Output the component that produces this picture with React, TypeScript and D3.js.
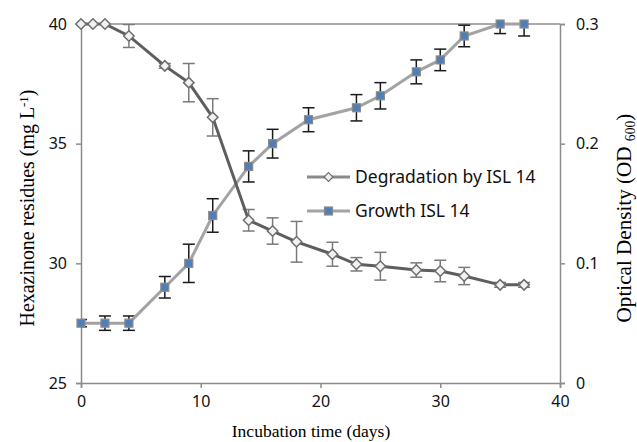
import React, { useEffect, useRef } from "react";
import * as d3 from "d3";

// degradation of hexazinone (mg/L)
const degDays = [0, 1, 2, 4, 7, 9, 11, 14, 16, 18, 21, 23, 25, 28, 30, 32, 35, 37];
const degValues = [40, 40, 40, 39.5, 38.25, 37.55, 36.1, 31.8, 31.35, 30.9, 30.38, 29.96, 29.88, 29.72, 29.68, 29.47, 29.1, 29.1];
const degErrors = [0, 0, 0, 0.48, 0.1, 0.8, 0.78, 0.45, 0.55, 0.85, 0.5, 0.28, 0.58, 0.3, 0.45, 0.36, 0.1, 0.1];

// growth (OD 600)
const growthDays = [0, 2, 4, 7, 9, 11, 14, 16, 19, 23, 25, 28, 30, 32, 35, 37];
const growthValues = [0.05, 0.05, 0.05, 0.08, 0.1, 0.14, 0.181, 0.2, 0.22, 0.23, 0.24, 0.26, 0.27, 0.29, 0.3, 0.3];
const growthErrors = [0.003, 0.006, 0.006, 0.009, 0.016, 0.014, 0.013, 0.012, 0.01, 0.011, 0.011, 0.01, 0.009, 0.009, 0.008, 0.01];

const xTicks = [0, 10, 20, 30, 40];
const leftTicks = [25, 30, 35, 40];
const rightTicks = [0, 0.1, 0.2, 0.3];

const seriesNames = ["Degradation by ISL 14", "Growth ISL 14"];

export default function App() {
    const ref = useRef<SVGSVGElement>(null);

    useEffect(() => {
        document.body.style.margin = "0";
        const W = 637, H = 442;
        const margin = { top: 24, right: 77, bottom: 59, left: 81 };
        const w = W - margin.left - margin.right,
            h = H - margin.top - margin.bottom;

        const svg = d3.select(ref.current);
        svg.selectAll("*").remove();
        const g = svg.append("g").attr("transform", `translate(${margin.left},${margin.top})`);

        const x = d3.scaleLinear().domain([0, 40]).range([0, w]);
        const yL = d3.scaleLinear().domain([25, 40]).range([h, 0]);
        const yR = d3.scaleLinear().domain([0, 0.3]).range([h, 0]);

        const axisColor = "#8c8c8c";
        const tickFont = "'Noto Sans', 'Open Sans', sans-serif";
        const serif = "'Liberation Serif', 'DejaVu Serif', serif";

        svg.append("defs").append("clipPath").attr("id", "plotclip")
            .append("rect").attr("x", 0).attr("y", 0).attr("width", w).attr("height", h);

        // top border
        g.append("line").attr("x1", 0).attr("x2", w).attr("y1", 0).attr("y2", 0)
            .attr("stroke", axisColor).attr("stroke-width", 1.5);

        const styleAxis = (sel: any) => {
            sel.select(".domain").attr("stroke", axisColor).attr("stroke-width", 1.5);
            sel.selectAll(".tick line").attr("stroke", axisColor).attr("stroke-width", 1.5);
            sel.selectAll(".tick text").attr("fill", "#111").style("font-family", tickFont).style("font-size", "16px");
        };

        g.append("g").attr("transform", `translate(0,${h})`)
            .call(d3.axisBottom(x).tickValues(xTicks).tickSizeOuter(0).tickSize(5).tickPadding(8))
            .call(styleAxis);
        g.append("g")
            .call(d3.axisLeft(yL).tickValues(leftTicks).tickSizeOuter(0).tickSize(5).tickPadding(9))
            .call(styleAxis);
        g.append("g").attr("transform", `translate(${w},0)`)
            .call(d3.axisRight(yR).tickValues(rightTicks).tickFormat(d3.format("")).tickSizeOuter(0).tickSize(5).tickPadding(11))
            .call(styleAxis);

        // axis titles
        svg.append("text").attr("x", 311).attr("y", 437)
            .attr("text-anchor", "middle").style("font-family", serif).style("font-size", "17.5px")
            .text("Incubation time (days)");

        // scale a rotated title so that it spans the wanted length
        const fitTitle = (t: any, target: number) => {
            const len = (t.node() as SVGTextElement).getComputedTextLength();
            if (len > 0) {
                const k = target / len;
                t.style("font-size", `${17 * k}px`);
                t.selectAll("tspan.small").style("font-size", `${11 * k}px`);
            }
        };

        const lt = svg.append("text").attr("transform", `translate(34,208) rotate(-90)`)
            .attr("text-anchor", "middle").style("font-family", serif).style("font-size", "17px");
        lt.append("tspan").text("Hexazinone residues (mg L");
        lt.append("tspan").attr("class", "small").attr("dy", -6).style("font-size", "11px").text("-1");
        lt.append("tspan").attr("dy", 6).text(")");
        fitTitle(lt, 237);

        const rt = svg.append("text").attr("transform", `translate(631,218) rotate(-90)`)
            .attr("text-anchor", "middle").style("font-family", serif).style("font-size", "17px");
        rt.append("tspan").text("Optical Density (OD ");
        rt.append("tspan").attr("class", "small").attr("dy", 4).style("font-size", "11px").text("600");
        rt.append("tspan").attr("dy", -4).text(")");
        fitTitle(rt, 209);

        const degData = degDays.map((d, i) => ({ x: d, y: degValues[i], e: degErrors[i] }));
        const growthData = growthDays.map((d, i) => ({ x: d, y: growthValues[i], e: growthErrors[i] }));

        const drawErrors = (data: any[], yScale: any, color: string, cls: string) => {
            const eg = g.append("g").attr("clip-path", "url(#plotclip)");
            const grp = eg.selectAll("." + cls).data(data.filter(d => d.e > 0)).join("g").attr("class", cls);
            grp.append("line").attr("x1", d => x(d.x)).attr("x2", d => x(d.x))
                .attr("y1", d => yScale(d.y - d.e)).attr("y2", d => yScale(d.y + d.e))
                .attr("stroke", color).attr("stroke-width", 1.5);
            [-1, 1].forEach(s => {
                grp.append("line").attr("x1", d => x(d.x) - 6).attr("x2", d => x(d.x) + 6)
                    .attr("y1", d => yScale(d.y + s * d.e)).attr("y2", d => yScale(d.y + s * d.e))
                    .attr("stroke", color).attr("stroke-width", 1.5);
            });
        };

        // growth series
        drawErrors(growthData, yR, "#1a1a1a", "gerr");
        g.append("path").datum(growthData)
            .attr("d", d3.line<any>().x(d => x(d.x)).y(d => yR(d.y)))
            .attr("fill", "none").attr("stroke", "#a3a3a3").attr("stroke-width", 3);

        // degradation series
        drawErrors(degData, yL, "#7a7a7a", "derr");
        g.append("path").datum(degData)
            .attr("d", d3.line<any>().x(d => x(d.x)).y(d => yL(d.y)))
            .attr("fill", "none").attr("stroke", "#5e5e5e").attr("stroke-width", 3);

        const diamond = d3.symbol().type(d3.symbolDiamond2).size(70);
        g.selectAll(".dmark").data(degData).join("path").attr("class", "dmark")
            .attr("transform", d => `translate(${x(d.x)},${yL(d.y)})`)
            .attr("d", diamond).attr("fill", "#f2f2f2").attr("stroke", "#6e6e6e").attr("stroke-width", 1.5);

        g.selectAll(".gmark").data(growthData).join("rect").attr("class", "gmark")
            .attr("x", d => x(d.x) - 4).attr("y", d => yR(d.y) - 4).attr("width", 8).attr("height", 8)
            .attr("fill", "#4f7fb8").attr("stroke", "#8a8a8a").attr("stroke-width", 1.2);

        // legend
        const legend = svg.append("g").attr("transform", "translate(307,177)");
        seriesNames.forEach((name, i) => {
            const ly = i * 34;
            legend.append("line").attr("x1", 0).attr("x2", 43).attr("y1", ly).attr("y2", ly)
                .attr("stroke", i === 0 ? "#8a8a8a" : "#a3a3a3").attr("stroke-width", 3);
            if (i === 0) {
                legend.append("path").attr("transform", `translate(21.5,${ly})`).attr("d", d3.symbol().type(d3.symbolDiamond2).size(50))
                    .attr("fill", "#f2f2f2").attr("stroke", "#6e6e6e").attr("stroke-width", 1.2);
            } else {
                legend.append("rect").attr("x", 17.5).attr("y", ly - 4).attr("width", 8).attr("height", 8)
                    .attr("fill", "#4f7fb8").attr("stroke", "#8a8a8a").attr("stroke-width", 1.2);
            }
            legend.append("text").attr("x", 48).attr("y", ly).attr("dy", "0.35em")
                .style("font-family", tickFont).style("font-size", "17.5px").attr("fill", "#111")
                .text(name);
        });
    }, []);

    return <svg ref={ref} width={637} height={442} style={{ display: "block", background: "#fff" }}></svg>;
}
